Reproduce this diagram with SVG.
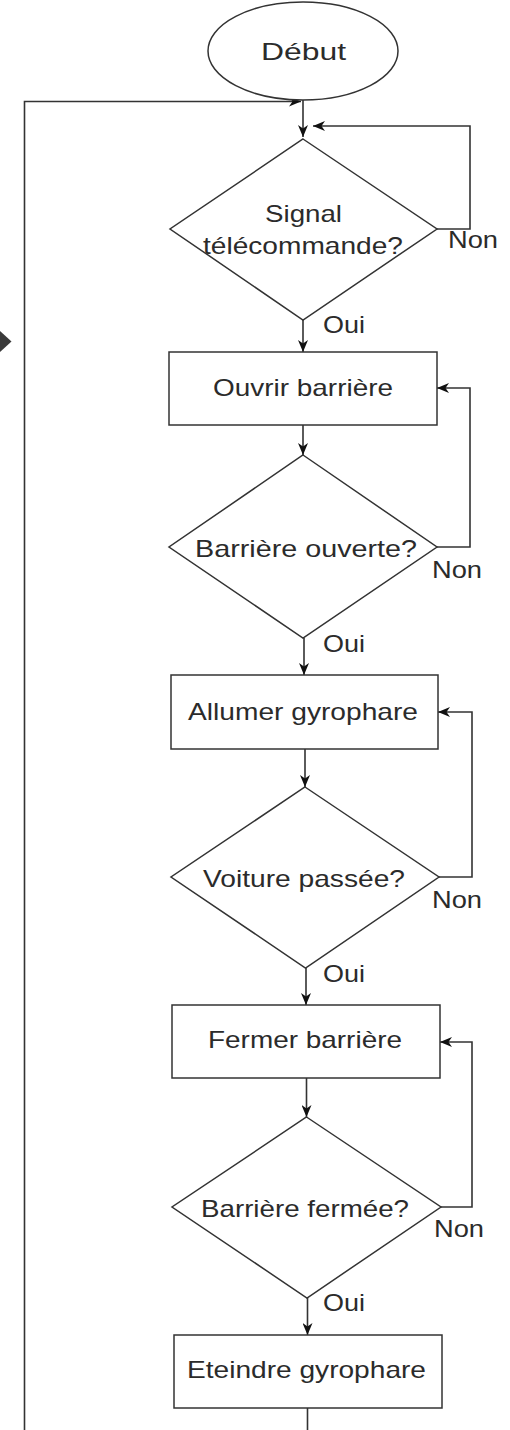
<svg xmlns="http://www.w3.org/2000/svg" width="510" height="1430" viewBox="0 0 510 1430">
<style>
.s{fill:#fff;stroke:#333;stroke-width:1.5}
.c{fill:none;stroke:#333;stroke-width:1.6}
.t{font-family:"Liberation Sans",Arial,sans-serif;font-size:24px;fill:#2b2b2b}
</style>
<defs>
<marker id="a" viewBox="0 0 12 10" refX="12" refY="5" markerWidth="12" markerHeight="10" markerUnits="userSpaceOnUse" orient="auto">
<path d="M0,0 L12,5 L0,10 L3.5,5 Z" fill="#111"/>
</marker>
</defs>
<rect width="510" height="1430" fill="#fff"/>
<polygon points="0,331 11.5,341.5 0,352" fill="#3a3a3a"/>
<g id="connectors">
<path class="c" d="M303,100 V137" marker-end="url(#a)"/>
<path class="c" d="M307.5,1408 V1450 H24.5 V101.5 H301" marker-end="url(#a)"/>
<path class="c" d="M437,229 H470 V126 H313" marker-end="url(#a)"/>
<path class="c" d="M303,320 V352" marker-end="url(#a)"/>
<path class="c" d="M303,425 V455" marker-end="url(#a)"/>
<path class="c" d="M437,547 H470 V388 H437" marker-end="url(#a)"/>
<path class="c" d="M304,638 V675" marker-end="url(#a)"/>
<path class="c" d="M305,749 V787" marker-end="url(#a)"/>
<path class="c" d="M439,877 H472 V712 H438" marker-end="url(#a)"/>
<path class="c" d="M306,968 V1005" marker-end="url(#a)"/>
<path class="c" d="M306.5,1078 V1117" marker-end="url(#a)"/>
<path class="c" d="M441,1207 H472 V1042 H440" marker-end="url(#a)"/>
<path class="c" d="M307.5,1298 V1335" marker-end="url(#a)"/>
</g>
<g id="debut">
<ellipse class="s" cx="303" cy="51" rx="95" ry="49"/>
<text class="t" x="261" y="60" textLength="85" lengthAdjust="spacingAndGlyphs">Début</text>
</g>
<g id="signal">
<polygon class="s" points="303,139 437,229 303,320 170,229"/>
<text class="t" x="265" y="222" textLength="77" lengthAdjust="spacingAndGlyphs">Signal</text>
<text class="t" x="203" y="254" textLength="200" lengthAdjust="spacingAndGlyphs">télécommande?</text>
</g>
<g id="ouvrir">
<rect class="s" x="169" y="352" width="268" height="73"/>
<text class="t" x="213" y="396" textLength="180" lengthAdjust="spacingAndGlyphs">Ouvrir barrière</text>
</g>
<g id="ouverte">
<polygon class="s" points="303,455 437,547 303,638 169,547"/>
<text class="t" x="195" y="557" textLength="222" lengthAdjust="spacingAndGlyphs">Barrière ouverte?</text>
</g>
<g id="allumer">
<rect class="s" x="171" y="675" width="267" height="74"/>
<text class="t" x="188" y="720" textLength="230" lengthAdjust="spacingAndGlyphs">Allumer gyrophare</text>
</g>
<g id="voiture">
<polygon class="s" points="305,787 439,877 305.5,968 171,877"/>
<text class="t" x="203" y="887" textLength="202" lengthAdjust="spacingAndGlyphs">Voiture passée?</text>
</g>
<g id="fermer">
<rect class="s" x="172" y="1005" width="268" height="73"/>
<text class="t" x="208" y="1048" textLength="194" lengthAdjust="spacingAndGlyphs">Fermer barrière</text>
</g>
<g id="fermee">
<polygon class="s" points="306.5,1117 441,1207 307,1298 172,1207"/>
<text class="t" x="201" y="1217" textLength="208" lengthAdjust="spacingAndGlyphs">Barrière fermée?</text>
</g>
<g id="eteindre">
<rect class="s" x="174" y="1335" width="268" height="73"/>
<text class="t" x="187" y="1378" textLength="239" lengthAdjust="spacingAndGlyphs">Eteindre gyrophare</text>
</g>
<g id="labels">
<text class="t" x="448" y="248" textLength="50" lengthAdjust="spacingAndGlyphs">Non</text>
<text class="t" x="323" y="333" textLength="42" lengthAdjust="spacingAndGlyphs">Oui</text>
<text class="t" x="432" y="578" textLength="50" lengthAdjust="spacingAndGlyphs">Non</text>
<text class="t" x="323" y="652" textLength="42" lengthAdjust="spacingAndGlyphs">Oui</text>
<text class="t" x="432" y="908" textLength="50" lengthAdjust="spacingAndGlyphs">Non</text>
<text class="t" x="323" y="982" textLength="42" lengthAdjust="spacingAndGlyphs">Oui</text>
<text class="t" x="434" y="1237" textLength="50" lengthAdjust="spacingAndGlyphs">Non</text>
<text class="t" x="323" y="1311" textLength="42" lengthAdjust="spacingAndGlyphs">Oui</text>
</g>
</svg>
